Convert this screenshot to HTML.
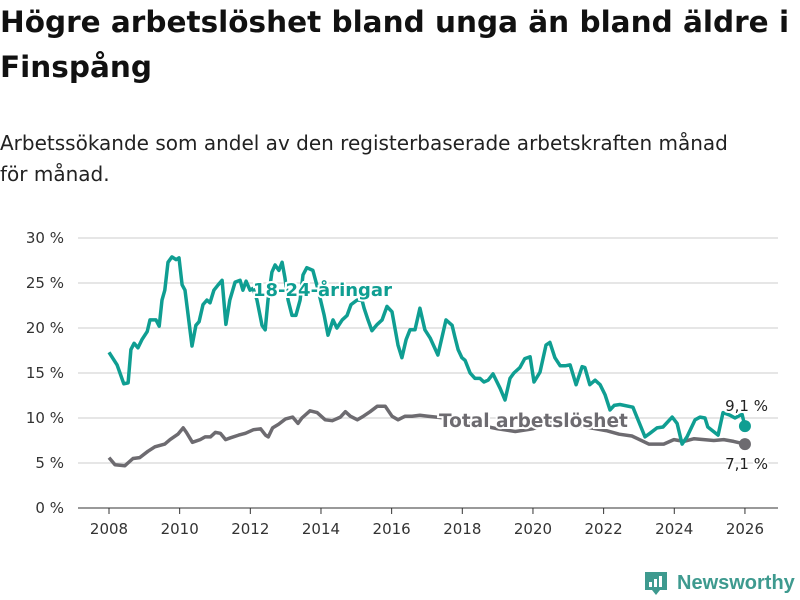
<!DOCTYPE html>
<html><head><meta charset="utf-8"><style>
body{margin:0;background:#fff;width:800px;height:600px;overflow:hidden;font-family:"DejaVu Sans","Liberation Sans",sans-serif;}
h1{position:absolute;left:0;top:0;margin:0;font-size:29.5px;line-height:45px;font-weight:bold;color:#111;width:800px}
p.sub{position:absolute;left:0;top:128px;margin:0;font-size:20px;line-height:31px;color:#222;width:740px}
svg{position:absolute;left:0;top:0}
</style></head><body>
<h1>Högre arbetslöshet bland unga än bland äldre i Finspång</h1>
<p class="sub">Arbetssökande som andel av den registerbaserade arbetskraften månad för månad.</p>
<svg id="chart" width="800" height="600"></svg>
<script>
const yTicks=[0,5,10,15,20,25,30];
const xTicks=[2008,2010,2012,2014,2016,2018,2020,2022,2024,2026];
const youthYears=[2008.0,2008.23,2008.42,2008.54,2008.62,2008.71,2008.82,2008.93,2009.08,2009.16,2009.33,2009.42,2009.5,2009.58,2009.67,2009.78,2009.9,2009.98,2010.07,2010.15,2010.35,2010.46,2010.55,2010.66,2010.77,2010.86,2010.97,2011.09,2011.2,2011.31,2011.42,2011.57,2011.71,2011.79,2011.88,2011.99,2012.08,2012.19,2012.33,2012.42,2012.5,2012.61,2012.7,2012.81,2012.9,2012.98,2013.07,2013.18,2013.29,2013.41,2013.49,2013.6,2013.77,2013.92,2014.09,2014.2,2014.34,2014.45,2014.6,2014.74,2014.85,2015.02,2015.16,2015.22,2015.33,2015.44,2015.59,2015.73,2015.87,2016.01,2016.18,2016.29,2016.41,2016.52,2016.66,2016.8,2016.94,2017.09,2017.31,2017.54,2017.71,2017.79,2017.88,2017.99,2018.08,2018.22,2018.36,2018.5,2018.61,2018.73,2018.87,2019.07,2019.21,2019.35,2019.46,2019.63,2019.77,2019.92,2020.03,2020.2,2020.37,2020.48,2020.62,2020.77,2020.91,2021.05,2021.22,2021.39,2021.47,2021.61,2021.76,2021.9,2022.04,2022.18,2022.3,2022.46,2022.83,2023.17,2023.31,2023.51,2023.68,2023.94,2024.08,2024.22,2024.36,2024.59,2024.73,2024.87,2024.95,2025.24,2025.38,2025.58,2025.72,2025.86,2025.92,2026.0];
const youthValues=[17.3,15.9,13.8,13.9,17.6,18.3,17.8,18.7,19.6,20.9,20.9,20.2,23.1,24.2,27.3,27.9,27.6,27.8,24.8,24.2,18.0,20.3,20.7,22.6,23.1,22.8,24.2,24.8,25.3,20.4,23.1,25.1,25.3,24.2,25.2,24.2,24.4,23.1,20.3,19.8,23.1,26.2,27.0,26.4,27.3,25.6,23.1,21.4,21.4,23.1,25.9,26.7,26.4,24.2,21.4,19.2,20.9,20.0,20.9,21.4,22.6,23.1,23.1,22.2,20.9,19.7,20.4,20.9,22.4,21.8,18.1,16.7,18.7,19.8,19.8,22.2,19.8,18.9,17.0,20.9,20.3,19.0,17.6,16.7,16.4,15.0,14.4,14.4,14.0,14.2,14.9,13.3,12.0,14.4,15.0,15.6,16.6,16.8,14.0,15.1,18.1,18.4,16.7,15.8,15.8,15.9,13.7,15.7,15.6,13.7,14.2,13.7,12.6,10.9,11.4,11.5,11.2,7.9,8.3,8.9,9.0,10.1,9.4,7.1,7.9,9.8,10.1,10.0,9.0,8.1,10.6,10.3,10.0,10.3,10.4,9.1];
const totalYears=[2008.0,2008.17,2008.45,2008.68,2008.87,2009.1,2009.3,2009.58,2009.73,2009.95,2010.1,2010.19,2010.36,2010.58,2010.72,2010.87,2011.01,2011.15,2011.3,2011.44,2011.67,2011.86,2012.09,2012.29,2012.43,2012.51,2012.63,2012.8,2013.0,2013.2,2013.35,2013.46,2013.69,2013.89,2014.12,2014.32,2014.55,2014.69,2014.83,2015.03,2015.2,2015.39,2015.59,2015.82,2016.01,2016.18,2016.38,2016.58,2016.8,2017.03,2017.5,2018.0,2018.5,2019.0,2019.5,2020.0,2020.5,2021.0,2021.5,2022.07,2022.44,2022.8,2023.28,2023.7,2023.99,2024.27,2024.56,2024.84,2025.12,2025.4,2025.68,2026.0];
const totalValues=[5.6,4.8,4.7,5.5,5.6,6.3,6.8,7.1,7.6,8.2,8.9,8.4,7.3,7.6,7.9,7.9,8.4,8.3,7.6,7.8,8.1,8.3,8.7,8.8,8.1,7.9,8.9,9.3,9.9,10.1,9.4,10.0,10.8,10.6,9.8,9.7,10.1,10.7,10.2,9.8,10.2,10.7,11.3,11.3,10.2,9.8,10.2,10.2,10.3,10.2,10.0,9.5,9.2,8.8,8.5,8.8,9.6,9.3,9.0,8.6,8.2,8.0,7.1,7.1,7.6,7.4,7.7,7.6,7.5,7.6,7.4,7.1];
const NS='http://www.w3.org/2000/svg';
const svg=document.getElementById('chart');
const X=y=>109+(y-2008)*35.33;
const Y=v=>508-v*9;
function mk(t,a,p){const e=document.createElementNS(NS,t);for(const k in a)e.setAttribute(k,a[k]);(p||svg).appendChild(e);return e;}
yTicks.forEach(v=>{
  const l=mk('line',{x1:78,x2:778,y1:Y(v),y2:Y(v),stroke:v===0?'#333':'#ddd','stroke-width':v===0?1:1.5});
  
  
  const t=mk('text',{x:64,y:Y(v)+5,'text-anchor':'end','font-size':15,fill:'#333'});
  t.textContent=v+' %';
  
  
});
xTicks.forEach(y=>{
  const l=mk('line',{x1:X(y),x2:X(y),y1:508,y2:514,stroke:'#333'});
  
  
  const t=mk('text',{x:X(y),y:534,'text-anchor':'middle','font-size':15,fill:'#333'});
  t.textContent=y;
  
  
});
function line(ys,vs,col,name){
  const d=ys.map((y,i)=>(i?'L':'M')+X(y).toFixed(1)+','+Y(vs[i]).toFixed(1)).join('');
  const p=mk('path',{d:d,fill:'none',stroke:col,'stroke-width':3.5,'stroke-linejoin':'round'});
  
  
  const c=mk('circle',{cx:X(ys[ys.length-1]),cy:Y(vs[vs.length-1]),r:6,fill:col});
  
  
}
line(totalYears,totalValues,'#6d6b70','total-line');
line(youthYears,youthValues,'#0f9e92','youth-line');
function lab(x,y,txt,col,name,sz,bold,anchor){
  const t=mk('text',{x:x,y:y,'font-size':sz,'font-weight':bold?'bold':'normal',fill:col,stroke:'#fff','stroke-width':4,'paint-order':'stroke','text-anchor':anchor||'start'});
  t.textContent=txt;
  
  
}
lab(253,296,'18-24-åringar','#0f9e92','youth-series-label',18,true);
lab(439,427,'Total arbetslöshet','#6d6b70','total-series-label',18.5,true);
lab(768,411,'9,1 %','#222','youth-last-value',15,false,'end');
lab(768,469,'7,1 %','#222','total-last-value',15,false,'end');
const g=mk('g',{});


mk('path',{d:'M645,572h22v18h-7l-4,5l-4,-5h-7z',fill:'#3e9a8f'},g);
mk('rect',{x:649,y:582,width:3,height:5,fill:'#fff'},g);
mk('rect',{x:654,y:579,width:3,height:8,fill:'#fff'},g);
mk('rect',{x:659,y:576,width:3,height:11,fill:'#fff'},g);
const lt=mk('text',{x:677,y:589,'font-size':20,'font-weight':'bold',fill:'#3e9a8f','font-family':'Liberation Sans, sans-serif'},g);
lt.textContent='Newsworthy';
</script>
</body></html>
